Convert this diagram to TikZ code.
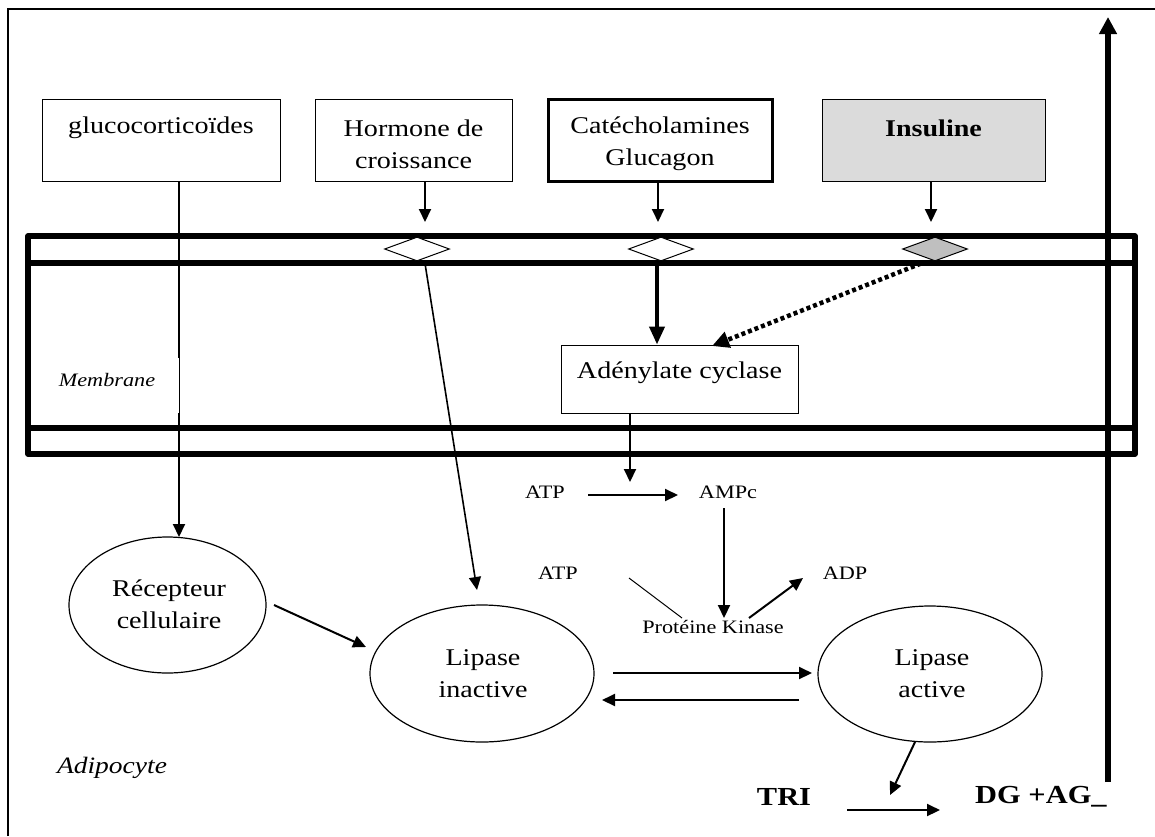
\documentclass[tikz,border=0pt]{standalone}
\usepackage{fontspec}
\setmainfont[FakeStretch=1.17]{Liberation Serif}
\usetikzlibrary{arrows.meta,shapes.geometric}
\begin{document}
\begin{tikzpicture}[x=1pt,y=-1pt,
  hbox/.style={draw,line width=1pt,inner sep=0pt},
  big/.style={font=\fontsize{24}{32}\selectfont,align=center,inner sep=0pt},
  small/.style={font=\fontsize{19}{22}\selectfont,inner sep=0pt},
  oval/.style={draw,ellipse,line width=1.2pt,inner sep=0pt},
  rdiam/.style={draw,diamond,line width=1pt,fill=white,minimum width=65pt,minimum height=24pt,inner sep=0pt},
  arr/.style={line width=2pt,-{Triangle[length=13pt,width=12pt]}},
  memb/.style={line width=5.5pt,line join=round}]
\useasboundingbox (0,0) rectangle (1155,836);
% outer frame
\draw[line width=2pt] (8,836) -- (8,9) -- (1155,9);
% membrane
\draw[memb] (28,236) rectangle (1135,454);
\draw[memb] (28,263) -- (1135,263);
\draw[memb] (28,428) -- (1135,428);
% boxes
\node[hbox,minimum width=238pt,minimum height=82pt] (gc) at (161,140) {};
\node[hbox,minimum width=197pt,minimum height=82pt] (gh) at (413.5,140) {};
\node[hbox,line width=3pt,minimum width=224pt,minimum height=82pt] (cat) at (660,140) {};
\node[hbox,fill=gray!28,minimum width=223pt,minimum height=82pt] (ins) at (933.5,140) {};
\node[big] (tgc) at (161,128) {glucocorticoïdes};
\node[big] (tgh) at (413.5,144) {Hormone de\\croissance};
\node[big] (tcat) at (660,144) {Catécholamines\\Glucagon};
\node[big] (tins) at (933.5,128) {\bfseries Insuline};
% diamonds
\node[rdiam] (dgh) at (417,249) {};
\node[rdiam] (dcat) at (661,249) {};
\node[rdiam,fill=gray!50] (dins) at (935,249) {};
% adenylate cyclase
\node[hbox,fill=white,minimum width=237pt,minimum height=68pt] (adc) at (679.5,379) {};
\node[big] (tadc) at (679.5,373) {Adénylate cyclase};
% ellipses
\node[oval,minimum width=197pt,minimum height=136pt] (rec) at (167.5,605) {};
\node[oval,minimum width=224pt,minimum height=137pt] (lin) at (482,673.5) {};
\node[oval,minimum width=224pt,minimum height=136pt] (lac) at (930,674) {};
\node[big] (trec) at (169,604) {Récepteur\\cellulaire};
\node[big] (tlin) at (483,674) {Lipase\\inactive};
\node[big] (tlac) at (932,674) {Lipase\\active};
% small texts
\node[small] (atp1) at (545,492) {ATP};
\node[small] (ampc) at (728,492) {AMPc};
\node[small] (atp2) at (558,573) {ATP};
\node[small] (adp) at (845,573) {ADP};
\node[small] (pk) at (713,627) {Protéine Kinase};
\node[font=\fontsize{23.5}{26}\selectfont\itshape,inner sep=0pt] (adip) at (112,768) {Adipocyte};
\node[font=\fontsize{26}{30}\selectfont\bfseries,inner sep=0pt] (tri) at (784,797) {TRI};
\node[font=\fontsize{26}{30}\selectfont\bfseries,inner sep=0pt,anchor=west] (dg) at (975,797) {DG +AG\_};
% hormone arrows to receptors
\draw[arr] (gh.south -| 425,0) -- (425,222) coordinate (tgh);
\draw[arr] (cat.south -| 658,0) -- (658,222) coordinate (tcat);
\draw[arr] (ins.south -| 931,0) -- (931,222) coordinate (tins);
% glucocorticoides
\coordinate (grec) at (179,537);
\draw[arr] (gc.south -| grec) -- (grec);
% membrane label (its white field overlaps the line a little)
\fill[white] (172,358) rectangle (178.6,413);
\node[font=\fontsize{19}{22}\selectfont\itshape,inner sep=0pt] (memt) at (107,380) {Membrane};
% hormone de croissance
\coordinate (glin) at (477,590);
\draw[arr,line width=1.6pt] ([xshift=8pt,yshift=-2pt]dgh.south) -- (glin);
% catecholamines -> AC
\draw[line width=4pt,-{Triangle[length=18pt,width=15pt]}] ([xshift=-4pt]dcat.south) -- (adc.north -| 657,0);
% insuline -> AC (dotted)
\coordinate (adcin) at (712,346);
\draw[line width=4.5pt,dash pattern=on 4pt off 3pt,-{Triangle[length=17pt,width=16pt]}] ([xshift=-14pt,yshift=-2pt]dins.south) -- (adcin);
% AC -> ATP
\coordinate (acend) at (630,482);
\draw[arr] (adc.south -| acend) -- (acend);
\coordinate (a1s) at (588,495);
\coordinate (a1e) at (678,495);
\draw[arr] (a1s) -- (a1e);
\coordinate (pktop) at (724,618);
\draw[arr] (724,508) -- (pktop);
\coordinate (atpline) at (682,618);
\draw[line width=1pt] (629,578) -- (atpline);
\coordinate (pkr) at (749,618);
\draw[arr] (pkr) -- (803,578) coordinate (adparr);
% lipase equilibrium
\draw[arr] (613,673) coordinate (l1s) -- (812,673) coordinate (l1e);
\draw[arr] (799,700) coordinate (l2s) -- (602,700) coordinate (l2e);
% recepteur -> lipase inactive
\draw[arr] (274,605) coordinate (r1) -- (366,647) coordinate (r2);
% lipase active -> TRI reaction
\draw[arr] (915,742) coordinate (h1) -- (890,795) coordinate (hyd);
\draw[arr] (847,810) coordinate (ts) -- (940,810) coordinate (te);
% big vertical arrow
\draw[line width=6pt,-{Triangle[length=17pt,width=17pt]}] (1108,782) coordinate (vbot) -- (1108,17) coordinate (vtop);
\end{tikzpicture}
\end{document}
